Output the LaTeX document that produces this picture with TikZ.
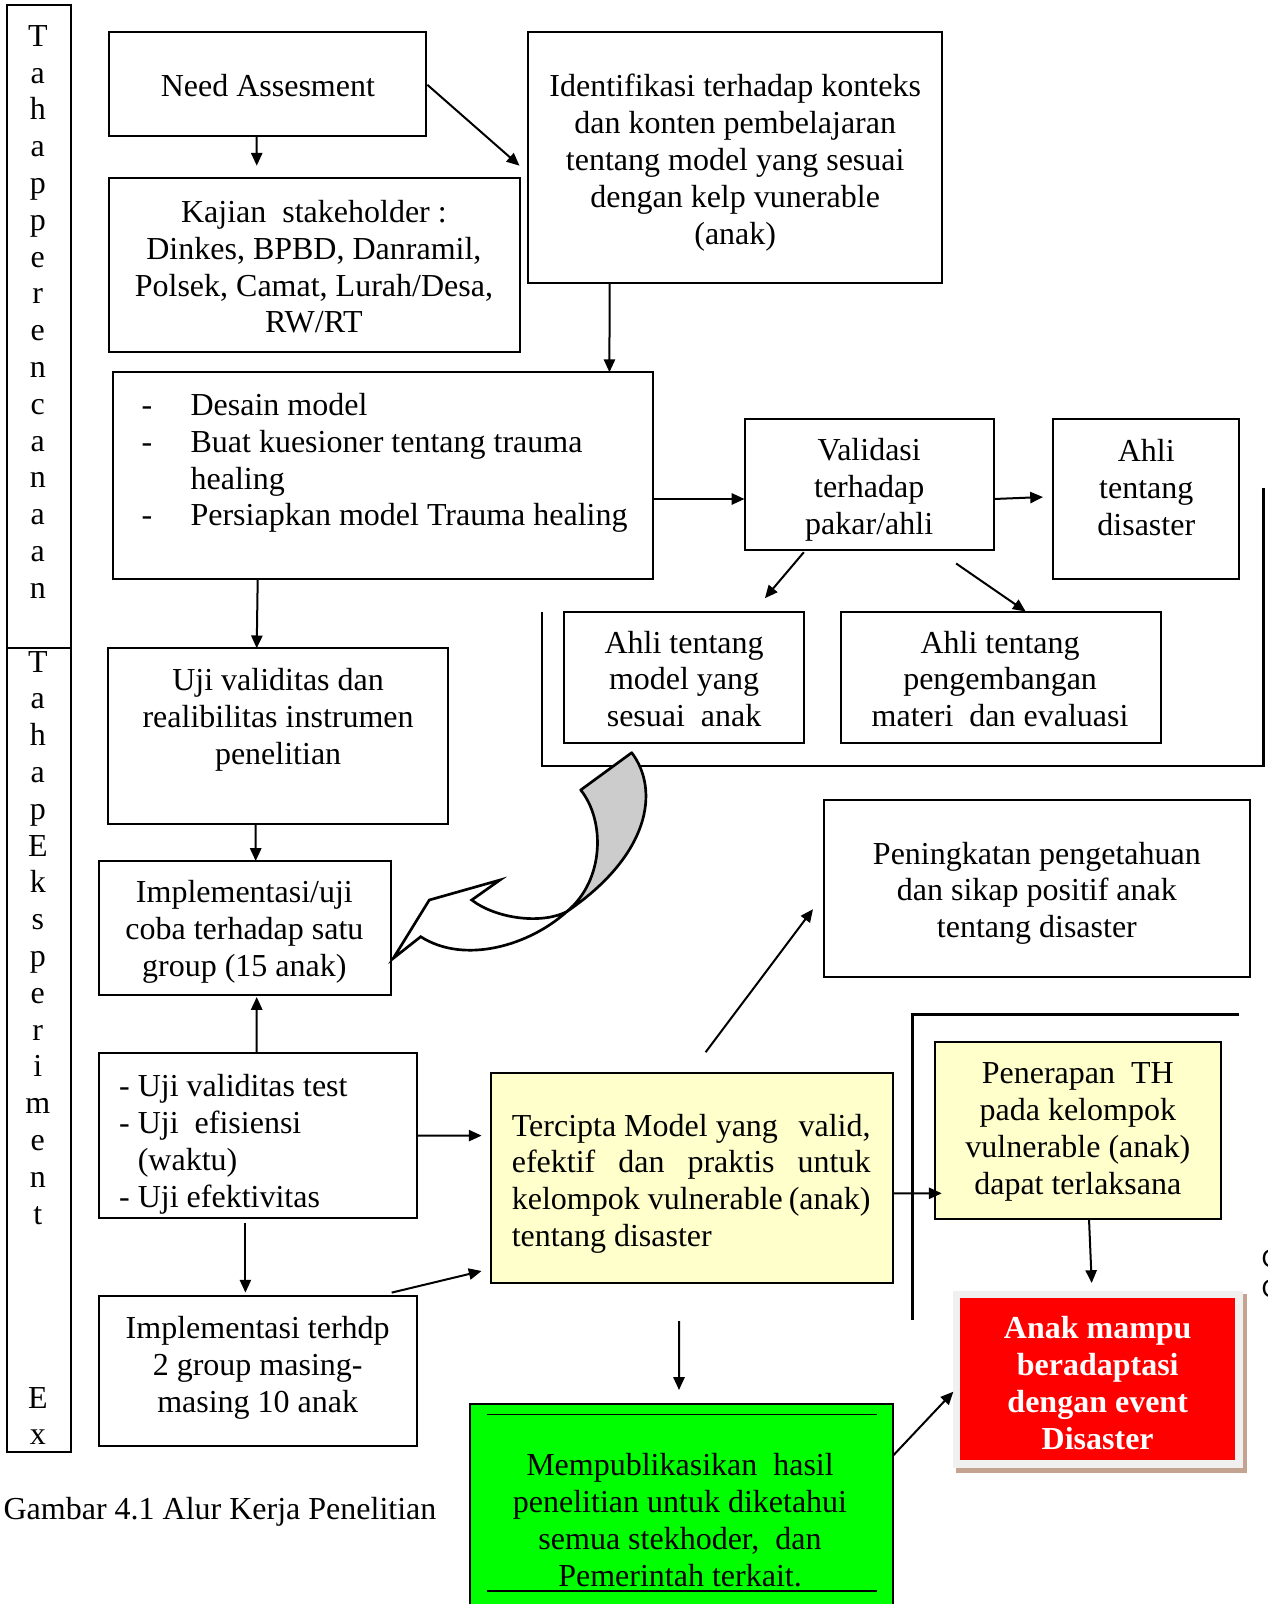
\documentclass[tikz,border=0pt]{standalone}
\usepackage{fontspec}
\setmainfont{Liberation Serif}
\newfontfamily\sansC{Liberation Sans}
\usetikzlibrary{arrows.meta,calc,fit}
\definecolor{lightyellow}{HTML}{FFFFCC}
\definecolor{brightgreen}{HTML}{00FF00}
\definecolor{brightred}{HTML}{FF0000}
\definecolor{framegray}{HTML}{F0F0F0}
\definecolor{shadowtan}{HTML}{C4A490}
\definecolor{ribbongray}{HTML}{CCCCCC}
\begin{document}
\begin{tikzpicture}[x=0.375pt,y=-0.375pt,
  font=\fontsize{12}{13.8}\selectfont,
  box/.style={draw,line width=0.75pt,inner sep=0pt,outer sep=0pt},
  txt/.style={inner sep=0pt,align=center},
  arr/.style={line width=0.75pt,-{Triangle[length=4.8pt,width=4.2pt]}},
  brk/.style={line width=1pt}]
\useasboundingbox (0,0) rectangle (1268,1604);
\fill[white] (0,0) rectangle (1268,1604);

% left stage column
\node[box, fit={(7.2,5.1)(70.6,648.3)}] (colA) {};
\node[box, fit={(7.2,648.3)(70.6,1452.1)}] (colB) {};
\node[txt] (colAtext) at (37.8,311.8) {T\\a\\h\\a\\p\\p\\e\\r\\e\\n\\c\\a\\n\\a\\a\\n};
\node[txt] (colBtext) at (37.8,1048) {T\\a\\h\\a\\p\\E\\k\\s\\p\\e\\r\\i\\m\\e\\n\\t\\\mbox{}\\\mbox{}\\\mbox{}\\\mbox{}\\E\\x};

% boxes
\node[box, fit={(109.4,31.7)(426.4,136)}] (need) {};
\node[txt] (needT) at (267.9,85.9) {Need Assesment};

\node[box, fit={(527.7,31.7)(941.8,283.3)}] (ident) {};
\node[txt] (identT) at (735.2,162.6) {Identifikasi terhadap konteks\\dan konten pembelajaran\\tentang model yang sesuai\\dengan kelp vunerable\\(anak)};

\node[box, fit={(109.4,177.9)(519.5,351.8)}] (kaj) {};
\node[txt] (kajT) at (313.9,266.9) {Kajian\ \ stakeholder :\\Dinkes, BPBD, Danramil,\\Polsek, Camat, Lurah/Desa,\\RW/RT};

\node[box, fit={(112.5,372.2)(653.4,578.8)}] (des) {};
\node[txt, align=left, anchor=west] (desT) at (141,463.1) {\makebox[18.4pt][l]{-}Desain model\\\makebox[18.4pt][l]{-}Buat kuesioner tentang trauma\\\hspace*{18.4pt}healing\\\makebox[18.4pt][l]{-}Persiapkan model Trauma healing};

\node[box, fit={(744.5,419.3)(994,550.2)}] (val) {};
\node[txt] (valT) at (869.2,489.9) {Validasi\\terhadap\\pakar/ahli};

\node[box, fit={(1053.3,419.3)(1239.4,578.8)}] (ahd) {};
\node[txt] (ahdT) at (1146.3,487.8) {Ahli\\tentang\\disaster};

\node[box, fit={(563.5,611.5)(803.8,743.4)}] (ahm) {};
\node[txt] (ahmT) at (684.1,679) {Ahli tentang\\model yang\\sesuai\ \ anak};

\node[box, fit={(840.6,611.5)(1160.7,743.4)}] (ahp) {};
\node[txt] (ahpT) at (1000.1,679) {Ahli tentang\\pengembangan\\materi\ \ dan evaluasi};

\node[box, fit={(108.4,648.3)(447.9,824.2)}] (uji) {};
\node[txt] (ujiT) at (278.1,719.9) {Uji validitas dan\\realibilitas instrumen\\penelitian};

\node[box, fit={(99.2,861)(390.6,995)}] (impl) {};
\node[txt] (implT) at (244.4,931.6) {Implementasi/uji\\coba terhadap satu\\group (15 anak)};

\node[box, fit={(824.2,799.7)(1249.6,976.6)}] (pen) {};
\node[txt] (penT) at (1036.9,893.3) {Peningkatan pengetahuan\\dan sikap positif anak\\tentang disaster};

\node[box, fit={(99.2,1053.3)(417.2,1217.9)}] (list) {};
\node[txt, align=left, anchor=west] (listT) at (118.6,1144.3) {- Uji validitas test\\- Uji\ \ efisiensi\\\hphantom{- }(waktu)\\- Uji efektivitas};

\node[box, fill=lightyellow, fit={(490.8,1072.7)(892.7,1283.4)}] (terc) {};
\node[txt, align=left, anchor=west] (tercT) at (511.3,1183.7) {\hbox to 134.5pt{Tercipta Model yang\hfill valid,}\\\hbox to 134.5pt{efektif\hfill dan\hfill praktis\hfill untuk}\\\hbox to 134.5pt{kelompok vulnerable\hfill (anak)}\\tentang disaster};

\node[box, fill=lightyellow, fit={(934.7,1042)(1221,1218.9)}] (pener) {};
\node[txt] (penerT) at (1077.8,1132) {Penerapan\ \ TH\\pada kelompok\\vulnerable (anak)\\dapat terlaksana};

\node[box, fit={(99.2,1295.6)(417.2,1446)}] (impl2) {};
\node[txt] (impl2T) at (257.7,1367.9) {Implementasi terhdp\\2 group masing-\\masing 10 anak};

\node[box, fill=brightgreen, fit={(470.4,1404)(892.7,1630)}] (green) {};
\draw[line width=0.5pt] (486.7,1414.3) -- (876.7,1414.3);
\draw[line width=0.5pt] (486.7,1591) -- (876.7,1591);
\node[txt] (greenT) at (680,1520) {Mempublikasikan\ \ hasil\\penelitian untuk diketahui\\semua stekhoder,\ \ dan\\Pemerintah terkait.};

% red result box with frame and shadow
\fill[shadowtan] (956,1294) rectangle (1246.5,1472.7);
\node[inner sep=0pt, outer sep=0pt, fill=framegray, fit={(952.7,1290.7)(1243.3,1468.3)}] (red) {};
\fill[brightred] (960,1298.3) rectangle (1235,1460);
\node[txt, text=white, font=\fontsize{12}{13.8}\selectfont\bfseries] (redT) at (1097.7,1383) {Anak mampu\\beradaptasi\\dengan event\\Disaster};

% brackets
\draw[brk] (542,611.5) -- (542,766) -- (1263.5,766) -- (1263.5,488);
\draw[brk] (1239.4,1014.4) -- (912.2,1014.4) -- (912.2,1320);

% curved ribbon arrow
\filldraw[fill=ribbongray, line width=1pt, line join=round]
  (631.7,752.7) -- (580.7,790) .. controls (605,820) and (605,880) .. (566.7,911.7)
  .. controls (650,855) and (660,790) .. (631.7,752.7) -- cycle;
\filldraw[fill=white, line width=1pt, line join=miter]
  (566.7,911.7) .. controls (530,945) and (465,965) .. (420.7,936.7)
  -- (393.3,958.3) -- (429.3,900) -- (500,880) -- (471.7,900)
  .. controls (495,918) and (540,925) .. (566.7,911.7) -- cycle;

% connectors
\draw[arr] ($(need.south)+(-11.2,0)$) -- ($(kaj.north)+(-57.7,-12.2)$);
\draw[arr] ($(need.east)+(1,1)$) -- ($(ident.west)+(-8.2,8.2)$);
\draw[arr] ($(ident.south)+(-125.2,0)$) -- ($(des.north)+(226.5,0)$);
\draw[arr] ($(des.east)+(0,23.5)$) -- ($(val.west)+(0,14.25)$);
\draw[arr] ($(val.east)+(0,14.25)$) -- ($(ahd.west)+(-10.3,-2)$);
\draw[arr] ($(val.south)+(-65.4,2)$) -- ($(ahm.north)+(81.25,-13.3)$);
\draw[arr] ($(val.south)+(86.85,13.3)$) -- ($(ahp.north)+(25.05,0)$);
\draw[arr] ($(des.south)+(-125.25,0)$) -- ($(uji.north)+(-21.45,0)$);
\draw[arr] ($(uji.south)+(-22.45,0)$) -- ($(impl.north)+(10.8,0)$);
\draw[arr] ($(list.north)+(-1.5,0)$) -- ($(impl.south)+(11.8,2)$);
\draw[arr] (list.east) -- ($(terc.west)+(-9.2,-42.45)$);
\draw[arr] ($(list.south)+(-12.8,5)$) -- ($(impl2.north)+(-12.8,-3)$);
\draw[arr] ($(impl2.north)+(133.5,-3)$) -- ($(terc.south west)+(-9.2,-12.4)$);
\draw[arr] ($(terc.north)+(13.85,-20.5)$) -- ($(pen.west)+(-11.2,21)$);
\draw[arr] ($(terc.south)+(-12.75,37.6)$) -- ($(green.north)+(-2.55,-14)$);
\draw[arr] ($(terc.east)+(0,15.25)$) -- ($(pener.west)+(7,62.85)$);
\draw[arr] ($(pener.south)+(11.15,0)$) -- ($(red.north)+(-6.3,-7.7)$);
\draw[arr] ($(green.north east)+(0,52)$) -- ($(red.west)+(0.6,12.2)$);

% caption and cut-off glyphs at the page edge
\node[txt, anchor=west] (cap) at (3.1,1512) {Gambar 4.1 Alur Kerja Penelitian};
\node[inner sep=0pt, anchor=base west, font=\sansC\fontsize{9.5}{10}\selectfont] (cA) at (1261,1267) {C};
\node[inner sep=0pt, anchor=base west, font=\sansC\fontsize{9.5}{10}\selectfont] (cB) at (1261,1297) {C};
\end{tikzpicture}
\end{document}
